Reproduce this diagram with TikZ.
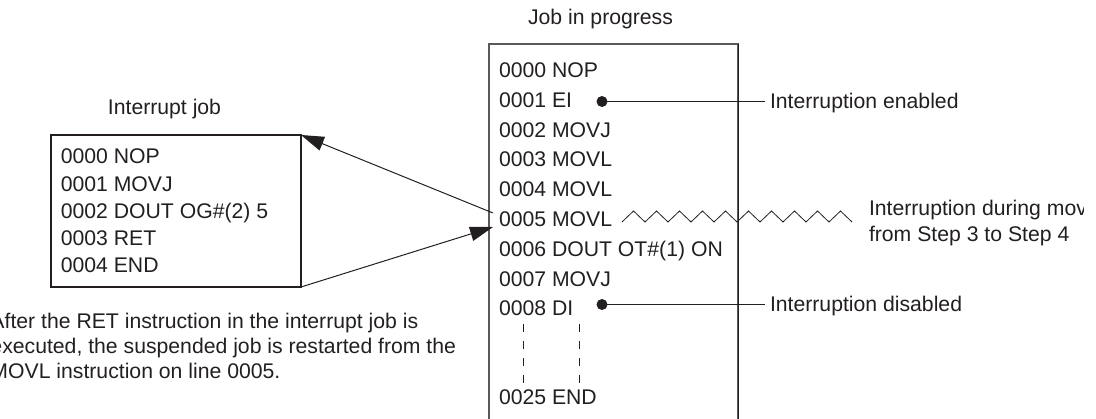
\documentclass[tikz,border=0pt]{standalone}
\usepackage{fontspec}
\setmainfont{Liberation Sans}
\usetikzlibrary{arrows.meta}
\definecolor{ink}{HTML}{231F20}
\definecolor{edge}{HTML}{5A5A5A}
\begin{document}
\begin{tikzpicture}[x=1pt,y=-1pt,
  every node/.style={inner sep=0pt, outer sep=0pt, font=\fontsize{21.2}{25.8}\selectfont, text=ink},
  codeline/.style={anchor=base west},
  title/.style={anchor=base},
  frame/.style={draw=ink, line width=1.1pt},
  link/.style={draw=ink, line width=1pt},
  arrowlink/.style={link, -{Triangle[length=23pt,width=14.5pt]}},
  dotmark/.style={circle, fill=ink, minimum size=11pt},
  guide/.style={draw=ink, line width=0.9pt, dash pattern=on 8pt off 9pt}
]
\clip (0,0) rectangle (1096,419);

% ---------- Interrupt job ----------
\node[title] (ititle) at (164.5,115) {Interrupt job};
\node[frame, anchor=north west, minimum width=250pt, minimum height=152pt] (ibox) at (51,135) {};
\node[codeline] (i0) at (60.8,164.0) {0000 NOP};
\node[codeline] (i1) at (60.8,191.2) {0001 MOVJ};
\node[codeline] (i2) at (60.8,218.4) {0002 DOUT OG\#(2) 5};
\node[codeline] (i3) at (60.8,245.6) {0003 RET};
\node[codeline] (i4) at (60.8,272.8) {0004 END};

% ---------- Job in progress ----------
\node[title] (jtitle) at (600.5,24.3) {Job in progress};
\node[frame, draw=edge, line width=1.3pt, anchor=north west, minimum width=249pt, minimum height=420pt] (jbox) at (489,44) {};
\draw[ink, line width=1pt] (jbox.north east) -- (jbox.south east);
\node[codeline] (j0) at (499,77.6) {0000 NOP};
\node[codeline] (j1) at (499,107.4) {0001 EI};
\node[codeline] (j2) at (499,137.2) {0002 MOVJ};
\node[codeline] (j3) at (499,167.0) {0003 MOVL};
\node[codeline] (j4) at (499,196.8) {0004 MOVL};
\node[codeline] (j5) at (499,226.6) {0005 MOVL};
\node[codeline] (j6) at (499,256.4) {0006 DOUT OT\#(1) ON};
\node[codeline] (j7) at (499,286.2) {0007 MOVJ};
\node[codeline] (j8) at (499,316.0) {0008 DI};
\node[codeline] (j25) at (499,404.6) {0025 END};

% omitted lines
\coordinate (ga1) at (523,324); \coordinate (gb1) at (523,384);
\coordinate (ga2) at (579,324); \coordinate (gb2) at (579,384);
\draw[guide] (ga1) -- (gb1);
\draw[guide] (ga2) -- (gb2);

% ---------- arrows between jobs ----------
\coordinate (outpt) at (493,213);
\coordinate (inpt) at (493,227);
\draw[arrowlink] (outpt) -- (ibox.north east);
\draw[arrowlink] (ibox.south east) -- (inpt);

% ---------- annotations ----------
\node[dotmark] (eidot) at (602,101.5) {};
\coordinate (eiend) at (765,101.5);
\draw[link] (eidot.center) -- (eiend);
\node[codeline] (eilabel) at (770,108.5) {Interruption enabled};

\node[dotmark] (didot) at (602,304.5) {};
\coordinate (diend) at (765,304.5);
\draw[link] (didot.center) -- (diend);
\node[codeline] (dilabel) at (770,312) {Interruption disabled};

\coordinate (zzstart) at (622,222);
\draw[draw=ink, line width=0.8pt, line join=miter] (zzstart)
  \foreach \k in {1,...,10} { -- ++(11.5,-11) -- ++(11.5,11) };
\begin{scope}
  \clip (0,0) rectangle (1083,419);
  \node[codeline] (mvlabel1) at (869,215.7) {Interruption during movement};
\end{scope}
\node[codeline] (mvlabel2) at (869,241.5) {from Step 3 to Step 4};

% ---------- note ----------
\node[codeline] (note1) at (-9.5,328.3) {After the RET instruction in the interrupt job is};
\node[codeline] (note2) at (-9.5,353.5) {executed, the suspended job is restarted from the};
\node[codeline] (note3) at (-9.5,378.5) {MOVL instruction on line 0005.};
\end{tikzpicture}
\end{document}
